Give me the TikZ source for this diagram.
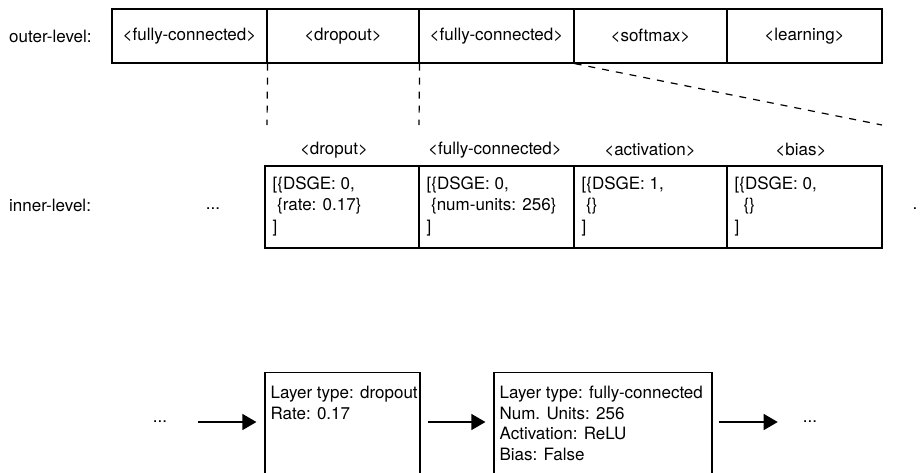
\documentclass[tikz,border=0pt]{standalone}
\usepackage{fontspec}
\setmainfont{TeX Gyre Heros}
\usetikzlibrary{arrows.meta,calc}
\begin{document}
\begin{tikzpicture}[x=1pt,y=-1pt,
  font=\fontsize{17}{20.5}\selectfont,
  box/.style={draw, line width=1.2pt, rectangle, inner sep=0pt},
  lbl/.style={inner sep=0pt},
  txt/.style={inner sep=0pt, anchor=north west, align=left},
  itxt/.style={txt, font=\fontsize{17}{21.5}\selectfont},
  dsh/.style={line width=1.2pt, dash pattern=on 7pt off 7pt},
  arr/.style={line width=1.3pt, -{Triangle[length=14pt,width=16pt]}}]
\useasboundingbox (0,0) rectangle (923,472);
\clip (0,0) rectangle (923,472);

% outer level
\node[lbl, anchor=west] (outl) at (9,36) {outer-level:};
\node[box, minimum width=155, minimum height=54] (o1) at (189.5,36) {<fully-connected>};
\node[box, minimum width=152, minimum height=54] (o2) at (343,36) {<dropout>};
\node[box, minimum width=155, minimum height=54] (o3) at (496.5,36) {<fully-connected>};
\node[box, minimum width=153, minimum height=54] (o4) at (650.5,36) {<softmax>};
\node[box, minimum width=155, minimum height=54] (o5) at (804.5,36) {<learning>};

% zoom lines
\coordinate (z1) at (267,125);
\coordinate (z2) at (419,125);
\coordinate (z3) at (882,125);
\draw[dsh] (o1.south east) -- (z1);
\draw[dsh] (o2.south east) -- (z2);
\draw[dsh] (o3.south east) -- (z3);

% inner level
\node[lbl, anchor=west] (inl) at (9,205) {inner-level:};
\node[lbl] (idots) at (213,209) {...};
\node[lbl] (iend) at (915,209) {.};

\node[lbl] (h1) at (334,150) {<droput>};
\node[lbl] (h2) at (495,150) {<fully-connected>};
\node[lbl] (h3) at (650,150) {<activation>};
\node[lbl] (h4) at (801,150) {<bias>};

\node[box, minimum width=154, minimum height=82] (i1) at (342,207) {};
\node[box, minimum width=155, minimum height=82] (i2) at (496.5,207) {};
\node[box, minimum width=153, minimum height=82] (i3) at (650.5,207) {};
\node[box, minimum width=155, minimum height=82] (i4) at (804.5,207) {};

\node[itxt] (t1) at ($(i1.north west)+(8,11)$) {[\{DSGE: 0,\\\hspace{4.5pt}\{rate: 0.17\}\\]};
\node[itxt] (t2) at ($(i2.north west)+(8,11)$) {[\{DSGE: 0,\\\hspace{4.5pt}\{num-units: 256\}\\]};
\node[itxt] (t3) at ($(i3.north west)+(8,11)$) {[\{DSGE: 1,\\\hspace{4.5pt}\{\}\\]};
\node[itxt] (t4) at ($(i4.north west)+(8,11)$) {[\{DSGE: 0,\\\hspace{9pt}\{\}\\]};

% network
\node[lbl] (e1) at (160,422) {...};
\node[box, anchor=north, minimum width=155, minimum height=150] (b1) at (342.5,372) {};
\node[box, anchor=north, minimum width=218, minimum height=150] (b2) at (603,372) {};
\node[lbl] (e3) at (810,422) {...};

\node[txt] (bt1) at ($(b1.north west)+(6,14)$) {Layer type: dropout\\Rate: 0.17};
\node[txt] (bt2) at ($(b2.north west)+(6,14)$) {Layer type: fully-connected\\Num. Units: 256\\Activation: ReLU\\Bias: False};

\draw[arr] ($(e1.east)+(31,0)$) -- ($(b1.west |- e1)+(-8,0)$);
\draw[arr] ($(b1.east |- e1)+(7,0)$) -- ($(b2.west |- e1)+(-8,0)$);
\draw[arr] ($(b2.east |- e1)+(6,0)$) -- ($(e3.west)+(-25,0)$);
\end{tikzpicture}
\end{document}
